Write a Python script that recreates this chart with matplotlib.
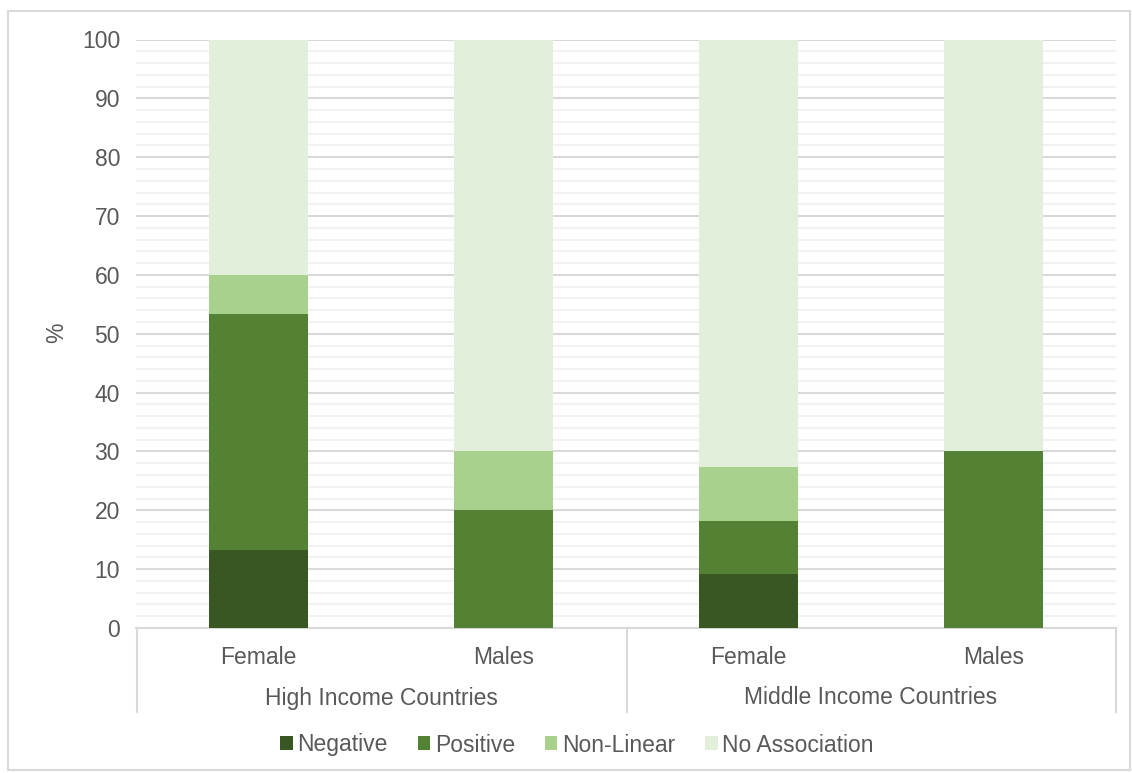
import matplotlib
matplotlib.use("Agg")
import matplotlib.pyplot as plt
from matplotlib.patches import Rectangle
from matplotlib.lines import Line2D
import numpy as np

plt.rcParams['font.family'] = ['Liberation Sans', 'DejaVu Sans']

groups = ["High Income Countries", "Middle Income Countries"]
sexes = ["Female", "Males", "Female", "Males"]
series = ["Negative", "Positive", "Non-Linear", "No Association"]
negative = [13.3, 0, 9.1, 0]
positive = [40.0, 20, 9.1, 30]
nonlinear = [6.7, 10, 9.1, 0]
no_assoc = [40.0, 70, 72.7, 70]
colors = ["#385723", "#548235", "#A9D18E", "#E2EFDA"]
yticks = list(range(0, 101, 10))

W, H = 1132, 773
fig = plt.figure(figsize=(W / 100, H / 100), dpi=100)
ax = fig.add_axes([136 / W, 1 - 628 / H, 980 / W, (628 - 39.5) / H])

text_col = "#595959"
fs = 16.5
x = np.arange(len(sexes))
bottom = np.zeros(len(sexes))
for name, vals, c in zip(series, [negative, positive, nonlinear, no_assoc], colors):
    ax.bar(x, vals, width=0.405, bottom=bottom, color=c, label=name, zorder=3)
    bottom += np.array(vals)

ax.set_xlim(-0.5, 3.5)
ax.set_ylim(0, 100)
ax.set_yticks(yticks)
ax.set_yticks(np.arange(0, 101, 2), minor=True)
ax.grid(axis='y', which='major', color='#D9D9D9', linewidth=1.5, zorder=1)
ax.grid(axis='y', which='minor', color='#F2F2F2', linewidth=1.5, zorder=0)
ax.tick_params(axis='y', which='both', length=0, pad=11.5, labelsize=fs, labelcolor=text_col)
ax.set_xticks([])
for s in ['top', 'right', 'left']:
    ax.spines[s].set_visible(False)
ax.spines['bottom'].set_color('#D9D9D9')
ax.spines['bottom'].set_linewidth(1.5)
fig.text(57 / W, 1 - 333 / H, "%", rotation=90, ha='center', va='center',
         fontsize=fs, color=text_col)

# category labels
for xi, s in zip(x, sexes):
    fig.text((136 + 245 * (xi + 0.5)) / W, 1 - 657 / H, s, ha='center', va='center',
             fontsize=fs, color=text_col)
for gi, g in enumerate(groups):
    fig.text((136 + 490 * (gi + 0.5)) / W, 1 - 698 / H, g, ha='center', va='center',
             fontsize=fs, color=text_col)
for xp in [137, 627, 1116]:
    fig.add_artist(Line2D([xp / W, xp / W], [1 - 628 / H, 1 - 712 / H],
                          color='#D9D9D9', linewidth=1.5))

leg = fig.legend(loc='center', bbox_to_anchor=(577 / W, 1 - 745 / H), ncol=4,
                 frameon=False, fontsize=fs, handlelength=0.55, handleheight=0.55,
                 handletextpad=0.2, columnspacing=1.3, labelcolor=text_col)

fig.add_artist(Rectangle((8 / W, 1 - 770 / H), 1122 / W, 759 / H, fill=False,
                         edgecolor='#D9D9D9', linewidth=1.5, transform=fig.transFigure))

fig.savefig("out.png", dpi=100)
